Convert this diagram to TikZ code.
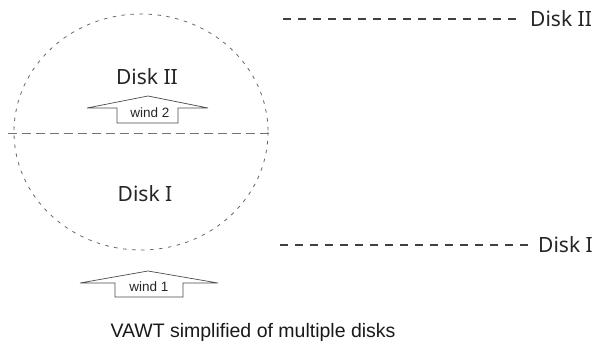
\documentclass[tikz,border=0pt]{standalone}
\usepackage{fontspec}
\setmainfont{Noto Sans}
\newfontfamily\capfont{Liberation Sans}
\begin{document}
\begin{tikzpicture}[x=1pt,y=-1pt,
  disklabel/.style={font=\fontsize{21}{24}\selectfont, text=black!85, inner sep=0pt},
  windlabel/.style={font=\capfont\fontsize{13.5}{15}\selectfont, text=black!85, inner sep=0pt},
  windarrow/.style={draw=black!70, line width=0.7pt, fill=white, line join=miter},
  legendline/.style={draw=black!75, line width=1.6pt, dash pattern=on 8pt off 7pt},
  rim/.style={draw=black!60, line width=0.8pt, dash pattern=on 3.5pt off 5.5pt},
  split/.style={draw=black!55, line width=0.8pt, dash pattern=on 9pt off 5pt}]
\useasboundingbox (0,0) rectangle (598,345);
% rotor outline
\draw[rim] (141,132) ellipse [x radius=127, y radius=118];
\coordinate (sL) at (8,133);
\coordinate (sR) at (273,133);
\draw[split] (sL) -- (sR);
% labels inside
\node[disklabel] (d2) at (147,77) {Disk II};
\node[disklabel] (d1) at (145,194) {Disk I};
% wind 2 arrow
\draw[windarrow] (87,108) -- (148,96) -- (208,108) -- (178,108) -- (178,123) -- (117,123) -- (117,108) -- cycle;
\node[windlabel] (w2) at (150,113) {wind 2};
% wind 1 arrow
\draw[windarrow] (80,283) -- (148,271) -- (218,283) -- (183,283) -- (183,297) -- (115,297) -- (115,283) -- cycle;
\node[windlabel] (w1) at (149,287) {wind 1};
% legend
\node[disklabel, anchor=west] (l2) at (530,19) {Disk II};
\node[disklabel, anchor=west] (l1) at (538,245) {Disk I};
\coordinate (a2) at (283,19);
\coordinate (a1) at (280,245);
\draw[legendline] (a2) -- ([xshift=-14pt]l2.west);
\draw[legendline] (a1) -- ([xshift=-9pt]l1.west);
% caption
\node[font=\capfont\fontsize{19.5}{22}\selectfont, text=black!90, inner sep=0pt] (cap) at (253,332) {VAWT simplified of multiple disks};
\end{tikzpicture}
\end{document}
